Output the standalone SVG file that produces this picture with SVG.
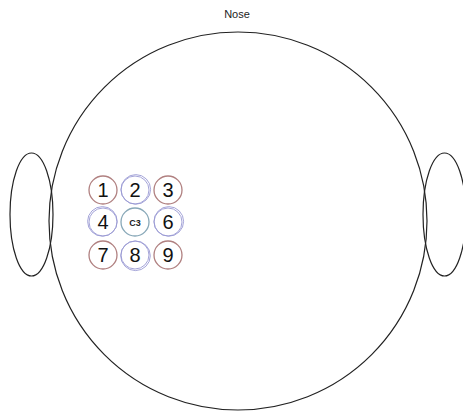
<svg xmlns="http://www.w3.org/2000/svg" width="463" height="417" viewBox="0 0 463 417">
<style>
.outline{fill:none;stroke:#222;stroke-width:1.2}
.red{fill:none;stroke:#b08080;stroke-width:1.3}
.blue{fill:none;stroke:#9a9ad4;stroke-width:0.9}
.teal{fill:none;stroke:#88a8b8;stroke-width:1.3}
.num{font-family:"Liberation Sans",Arial,sans-serif;font-size:20px;fill:#111;text-anchor:middle}
.c3{font-family:"Liberation Sans",Arial,sans-serif;font-size:9px;font-weight:bold;fill:#222;text-anchor:middle}
.lbl{font-family:"Liberation Sans",Arial,sans-serif;font-size:11px;fill:#222;text-anchor:middle}
</style>
<rect width="463" height="417" fill="#fff"/>
<g id="head">
<circle class="outline" cx="238" cy="221" r="189"/>
<ellipse class="outline" cx="31.5" cy="214.5" rx="21.5" ry="61.5"/>
<ellipse class="outline" cx="444.5" cy="214.5" rx="21.5" ry="61.5"/>
<text class="lbl" x="237" y="18">Nose</text>
</g>
<g id="e1"><circle class="red" cx="103" cy="190" r="14"/><text class="num" x="103" y="197">1</text></g>
<g id="e2"><circle class="blue" cx="135" cy="190" r="14"/><circle class="blue" cx="135.8" cy="189.4" r="14.8"/><text class="num" x="135" y="197">2</text></g>
<g id="e3"><circle class="red" cx="168" cy="190" r="14"/><text class="num" x="168" y="197">3</text></g>
<g id="e4"><circle class="blue" cx="103" cy="222" r="14"/><circle class="blue" cx="102.4" cy="221.4" r="14.8"/><text class="num" x="103" y="229">4</text></g>
<g id="c3"><circle class="teal" cx="135" cy="222" r="14"/><text class="c3" x="135" y="225.5">C3</text></g>
<g id="e6"><circle class="blue" cx="168" cy="222" r="14"/><circle class="blue" cx="168.8" cy="221.4" r="14.8"/><text class="num" x="168" y="229">6</text></g>
<g id="e7"><circle class="red" cx="103" cy="255" r="14"/><text class="num" x="103" y="262">7</text></g>
<g id="e8"><circle class="blue" cx="135" cy="255" r="14"/><circle class="blue" cx="135.5" cy="255.8" r="14.8"/><text class="num" x="135" y="262">8</text></g>
<g id="e9"><circle class="red" cx="168" cy="255" r="14"/><text class="num" x="168" y="262">9</text></g>
<g id="connectors"></g>
</svg>
